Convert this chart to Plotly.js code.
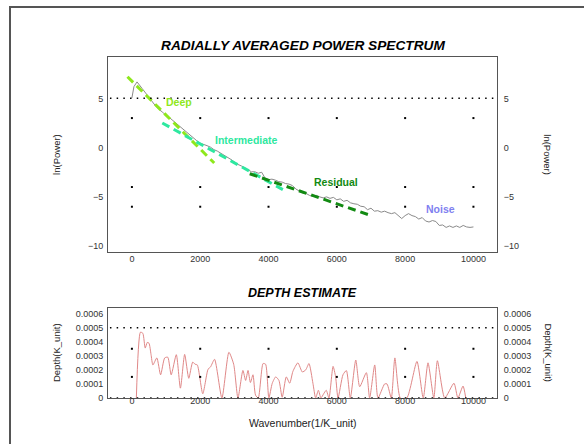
<!DOCTYPE html>
<html>
<head>
<meta charset="utf-8">
<script src="https://cdn.plot.ly/plotly-3.0.1.min.js"></script>
<style>
  html, body { margin: 0; padding: 0; background: #fff; }
  #wrap { position: relative; width: 584px; height: 444px; overflow: hidden; }
  #chart { position: absolute; left: 0; top: 0; width: 584px; height: 444px; }
  #frameTop { position: absolute; left: 9px; top: 6px; width: 575px; height: 2px; background: #555; }
  #frameLeft { position: absolute; left: 9px; top: 6px; width: 2px; height: 438px; background: #555; }
</style>
</head>
<body>
<div id="wrap">
  <div id="chart"></div>
  <div id="frameTop"></div>
  <div id="frameLeft"></div>
</div>
<script>
// ---- Radially averaged power spectrum ----
const wavenumber = [0,60,150,200,300,400,500,600,700,800,900,1000,1100,1200,1300,1400,1500,1600,1700,1800,1900,
  2000,2100,2200,2300,2400,2500,2600,2700,2800,2900,3000,3100,3200,3300,3400,3500,3600,3700,3800,3900,
  4000,4100,4200,4300,4400,4500,4600,4700,4800,4900,5000,5100,5200,5300,5400,5500,5600,5700,5800,5900,
  6000,6100,6200,6300,6400,6500,6600,6700,6800,6900,7000,7100,7200,7300,7400,7500,7600,7700,7800,7900,
  8000,8100,8200,8300,8400,8500,8600,8700,8800,8900,9000,9100,9200,9300,9400,9500,9600,9700,9800,9900,10000];
const lnPower = [5.05,6.2,6.67,6.4,6.0,5.55,5.1,4.6,4.2,3.85,3.6,3.25,3.05,2.75,2.45,2.15,1.85,1.55,1.2,0.95,0.7,
  0.45,0.35,0.2,0.05,-0.2,-0.35,-0.55,-0.75,-0.95,-1.2,-1.45,-1.7,-1.85,-2.05,-2.25,-2.45,-2.45,-2.6,-2.5,-3.1,
  -3.25,-3.2,-3.3,-3.45,-3.5,-3.65,-3.7,-3.85,-4.2,-4.4,-4.6,-4.65,-4.85,-4.95,-4.85,-5.0,-5.1,-5.0,-5.15,-5.05,
  -5.3,-5.2,-5.45,-5.35,-5.6,-5.7,-5.75,-5.95,-6.0,-6.3,-6.15,-6.45,-6.4,-6.55,-6.45,-6.6,-6.7,-6.6,-6.95,-7.2,
  -6.9,-6.7,-6.9,-7.0,-7.25,-7.1,-7.45,-7.55,-7.4,-7.5,-7.9,-7.85,-8.1,-7.95,-8.1,-7.95,-8.1,-7.9,-8.05,-8.1,-8.05];

// fitted segments (end points)
const deepX = [-130, 2410],  deepY = [7.2, -1.56];
const interX = [890, 4420],  interY = [2.5, -4.26];
const resX = [3450, 7000],   resY = [-2.65, -6.9];

// segment labels
const labelText = ["Deep", "Intermediate", "Residual", "Noise"];
const labelX = [1370, 3355, 5985, 9034];
const labelY = [4.63, 0.82, -3.5, -6.2];

// ---- Depth estimate ----
const depthWn = [130,250,320,390,450,500,560,615,730,840,960,1050,1150,1300,1420,1545,1665,1780,1850,1915,
  2075,2230,2300,2420,2635,2840,2980,3105,3250,3330,3400,3470,3545,3620,3700,3840,3915,4010,4110,4210,4305,
  4400,4520,4620,4715,4860,4990,5090,5185,5300,5380,5460,5535,5615,5690,5770,5890,5965,6035,6180,6280,6395,
  6555,6670,6865,6960,7110,7205,7400,7470,7595,7700,7860,8050,8346,8530,8670,8840,8945,9160,9430,9545,9695,9775];
const depth = [0,4.68e-4,4.6e-4,3.55e-4,3.95e-4,3.9e-4,3.1e-4,2.35e-4,2.85e-4,1.65e-4,2.85e-4,2.9e-4,1.65e-4,3.08e-4,0.7e-4,3.1e-4,1.4e-4,2.55e-4,2.4e-4,2.35e-4,
  0.3e-4,2.05e-4,2.2e-4,2.75e-4,0,3.25e-4,2.4e-4,0,1.96e-4,1.25e-4,1.96e-4,1.1e-4,1.65e-4,0.2e-4,0,2.45e-4,2.4e-4,0,1.05e-4,1.5e-4,1.25e-4,
  0.05e-4,1.5e-4,1.05e-4,1.9e-4,2.5e-4,1.85e-4,2.0e-4,2.45e-4,1.05e-4,0,0.55e-4,0,0.3e-4,0.55e-4,0,2.25e-4,1.5e-4,0,1.65e-4,1.95e-4,0,
  2.7e-4,0.8e-4,1.8e-4,0,2.35e-4,0,1.0e-4,1.0e-4,0,2.85e-4,0,0,2.6e-4,0,2.5e-4,0,2.65e-4,0,1.05e-4,0,0.85e-4,0];

// ---- tick values and reference dots ----
const xTicks = [0, 2000, 4000, 6000, 8000, 10000];
const xTickText = ["0", "2000", "4000", "6000", "8000", "10000"];
const yTicksTop = [-10, -5, 0, 5];
const yTicksBottom = [0, 0.0001, 0.0002, 0.0003, 0.0004, 0.0005, 0.0006];
const yTickTextBottom = ["0", "0.0001", "0.0002", "0.0003", "0.0004", "0.0005", "0.0006"];
const dotRowsTop = [3, -4, -6];
const dotRowsBottom = [3.5e-4, 1.5e-4];
const dottedLineTop = 5;
const dottedLinesBottom = [0.0005, 0];

function grid(xs, ys) {
  const gx = [], gy = [];
  ys.forEach(y => xs.forEach(x => { gx.push(x); gy.push(y); }));
  return {x: gx, y: gy};
}
const gTop = grid(xTicks, dotRowsTop);
const gBot = grid(xTicks, dotRowsBottom);

const FONT = "Liberation Sans, Arial, sans-serif";
const xRange = [-700, 10690];

const traces = [
  {x: wavenumber, y: lnPower, type: 'scatter', mode: 'lines', xaxis: 'x', yaxis: 'y',
   line: {color: '#8a8a8a', width: 1}},
  {x: deepX, y: deepY, type: 'scatter', mode: 'lines', xaxis: 'x', yaxis: 'y',
   line: {color: '#8ee81c', width: 3, dash: '8px,5px'}},
  {x: interX, y: interY, type: 'scatter', mode: 'lines', xaxis: 'x', yaxis: 'y',
   line: {color: '#2ee8a0', width: 3, dash: '8px,5px'}},
  {x: resX, y: resY, type: 'scatter', mode: 'lines', xaxis: 'x', yaxis: 'y',
   line: {color: '#128a12', width: 3, dash: '8px,5px'}},
  {x: gTop.x, y: gTop.y, type: 'scatter', mode: 'markers', xaxis: 'x', yaxis: 'y',
   marker: {color: '#000', size: 2, symbol: 'square'}},
  {x: [], y: [], type: 'scatter', xaxis: 'x', yaxis: 'y2'},
  {x: depthWn, y: depth, type: 'scatter', mode: 'lines', xaxis: 'x2', yaxis: 'y3',
   line: {color: '#e08888', width: 1, shape: 'spline', smoothing: 0.6}},
  {x: gBot.x, y: gBot.y, type: 'scatter', mode: 'markers', xaxis: 'x2', yaxis: 'y3',
   marker: {color: '#000', size: 2, symbol: 'square'}},
  {x: [], y: [], type: 'scatter', xaxis: 'x2', yaxis: 'y4'}
];

const axisCommon = {
  showline: true, linecolor: '#555', linewidth: 1, showgrid: false, zeroline: false,
  ticks: '', tickfont: {family: FONT, size: 9, color: '#333'}, fixedrange: true, tickmode: 'array'
};

const labelColors = ['#8ee81c', '#2ee8a0', '#128a12', '#8080f0'];
const annotations = [];
labelText.forEach((t, i) => annotations.push({
  text: '<b>' + t + '</b>', x: labelX[i], y: labelY[i], xref: 'x', yref: 'y',
  showarrow: false, font: {family: FONT, size: 10.5, color: labelColors[i]}
}));
const paperText = (text, x, y, size, angle, color) => ({
  text, x, y, xref: 'paper', yref: 'paper', showarrow: false, xanchor: 'center', yanchor: 'middle',
  textangle: angle, font: {family: FONT, size, color: color || '#222'}
});
annotations.push(paperText('<b><i>RADIALLY AVERAGED POWER SPECTRUM</i></b>', 0.5, 1.035, 13.7, 0, '#000'));
annotations.push(paperText('<b><i>DEPTH ESTIMATE</i></b>', 0.5, 0.308, 12.5, 0, '#000'));
annotations.push(paperText('Wavenumber(1/K_unit)', 0.5, -0.073, 10.5, 0));
annotations.push(paperText('ln(Power)', -0.131, 0.713, 9.5, -90));
annotations.push(paperText('ln(Power)', 1.13, 0.713, 9.5, 90));
annotations.push(paperText('Depth(K_unit)', -0.131, 0.132, 9.5, -90));
annotations.push(paperText('Depth(K_unit)', 1.13, 0.132, 9.5, 90));

const dotLine = {color: '#000', width: 1.5, dash: '1.5px,5.2px'};
const shapes = [
  {type: 'line', xref: 'x domain', yref: 'y', x0: 0.005, x1: 1, y0: dottedLineTop, y1: dottedLineTop, line: dotLine}
];
dottedLinesBottom.forEach(v => shapes.push(
  {type: 'line', xref: 'x2 domain', yref: 'y3', x0: 0.005, x1: 1, y0: v, y1: v, line: dotLine}
));

const layout = {
  width: 584, height: 444,
  margin: {l: 108, r: 87, t: 57, b: 46, pad: 0},
  paper_bgcolor: '#fff', plot_bgcolor: '#fff',
  showlegend: false,
  xaxis: Object.assign({}, axisCommon, {domain: [0, 1], anchor: 'y', range: xRange, tickvals: xTicks, ticktext: xTickText, mirror: true, ticklabelstandoff: -2}),
  yaxis: Object.assign({}, axisCommon, {domain: [0.428, 1], anchor: 'x', range: [-10.6, 9.2], tickvals: yTicksTop, ticklabelstandoff: 2}),
  yaxis2: Object.assign({}, axisCommon, {overlaying: 'y', side: 'right', anchor: 'x', range: [-10.6, 9.2], tickvals: yTicksTop, ticklabelstandoff: 4}),
  xaxis2: Object.assign({}, axisCommon, {domain: [0, 1], anchor: 'y3', range: xRange, tickvals: xTicks, ticktext: xTickText, mirror: true, ticklabelstandoff: -6}),
  yaxis3: Object.assign({}, axisCommon, {domain: [0, 0.264], anchor: 'x2', range: [0, 0.00064], tickvals: yTicksBottom, ticktext: yTickTextBottom, ticklabelstandoff: 2}),
  yaxis4: Object.assign({}, axisCommon, {overlaying: 'y3', side: 'right', anchor: 'x2', range: [0, 0.00064], tickvals: yTicksBottom, ticktext: yTickTextBottom, ticklabelstandoff: 4}),
  annotations, shapes
};

Plotly.newPlot('chart', traces, layout, {displayModeBar: false, staticPlot: true});
</script>
</body>
</html>
